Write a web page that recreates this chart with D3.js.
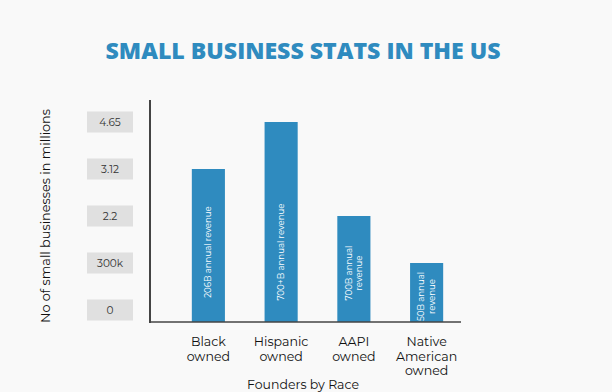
<!DOCTYPE html>
<html>
<head>
<meta charset="utf-8">
<script src="https://cdn.jsdelivr.net/npm/d3@7"></script>
<style>
  html, body { margin: 0; padding: 0; background: #f9f9f9; }
  svg { display: block; }
</style>
</head>
<body>
<svg id="chart" width="612" height="392"></svg>
<script>
const categories = [["Black", "owned"], ["Hispanic", "owned"], ["AAPI", "owned"], ["Native", "American", "owned"]];
const values = [3.12, 4.65, 2.2, 0.3];
const barLabels = [["206B annual revenue"], ["700+B annual revenue"], ["700B annual", "revenue"], ["50B annual", "revenue"]];
const tickValues = [0, 0.3, 2.2, 3.12, 4.65];
const tickLabels = ["0", "300k", "2.2", "3.12", "4.65"];

const svg = d3.select("#chart");
const blue = "#2f8bbf";
const font = "Montserrat, 'Open Sans', 'Noto Sans', sans-serif";

const baseline = 322;
const axisX = 150;

// the source chart spaces its ticks evenly, not linearly
const y = d3.scaleLinear()
  .domain(tickValues)
  .range(tickValues.map((_, i) => 310 - i * 47));

const x = d3.scaleBand()
  .domain(d3.range(categories.length))
  .range([170, 465])
  .paddingInner(0.545)
  .paddingOuter(0.3);

// title
svg.append("text")
  .attr("x", 303)
  .attr("y", 59)
  .attr("text-anchor", "middle")
  .attr("fill", blue)
  .attr("font-family", "'Open Sans', Lato, sans-serif")
  .attr("font-weight", 800)
  .attr("font-size", 22)
  .attr("textLength", 395)
  .attr("lengthAdjust", "spacingAndGlyphs")
  .text("SMALL BUSINESS STATS IN THE US");

// y tick boxes
const ticks = svg.append("g").selectAll("g")
  .data(tickValues)
  .enter()
  .append("g")
  .attr("transform", (d) => `translate(110,${y(d)})`);

ticks.append("rect")
  .attr("x", -23)
  .attr("y", -10.5)
  .attr("width", 46)
  .attr("height", 21)
  .attr("fill", "#e0e0e0");

ticks.append("text")
  .attr("text-anchor", "middle")
  .attr("dy", "0.35em")
  .attr("font-family", font)
  .attr("font-size", 10.5)
  .attr("fill", "#333")
  .text((d, i) => tickLabels[i]);

// y title
svg.append("text")
  .attr("transform", "translate(50,216) rotate(-90)")
  .attr("text-anchor", "middle")
  .attr("font-family", font)
  .attr("font-size", 12.8)
  .attr("fill", "#111")
  .text("No of small businesses in millions");

// bars
svg.append("g")
  .selectAll("rect")
  .data(values)
  .enter()
  .append("rect")
  .attr("x", (d, i) => x(i))
  .attr("y", (d) => y(d))
  .attr("width", x.bandwidth())
  .attr("height", (d) => baseline - y(d))
  .attr("fill", blue);

// bar labels
const labels = svg.append("g")
  .selectAll("text")
  .data(values)
  .enter()
  .append("text")
  .attr("transform", (d, i) => {
    const cy = Math.max((y(d) + baseline) / 2 + 4, 252);
    return `translate(${x(i) + x.bandwidth() / 2},${cy}) rotate(-90)`;
  })
  .attr("text-anchor", "middle")
  .attr("font-family", font)
  .attr("font-size", 8.6)
  .attr("fill", "#fff");

labels.selectAll("tspan")
  .data((d, i) => barLabels[i].map((t, j, arr) => ({ t, j, n: arr.length })))
  .enter()
  .append("tspan")
  .attr("x", 0)
  .attr("y", (d) => (d.j - (d.n - 1) / 2) * 10.5 + 3)
  .text((d) => d.t);

// axis lines
svg.append("line")
  .attr("x1", axisX).attr("x2", axisX)
  .attr("y1", 100).attr("y2", baseline + 1)
  .attr("stroke", "#444").attr("stroke-width", 2);

svg.append("line")
  .attr("x1", axisX).attr("x2", 461)
  .attr("y1", baseline).attr("y2", baseline)
  .attr("stroke", "#444").attr("stroke-width", 1.5);

// category labels
const cats = svg.append("g")
  .selectAll("text")
  .data(categories)
  .enter()
  .append("text")
  .attr("text-anchor", "middle")
  .attr("font-family", font)
  .attr("font-size", 12.6)
  .attr("fill", "#111");

cats.selectAll("tspan")
  .data((d, i) => d.map((t, j) => ({ t, j, i })))
  .enter()
  .append("tspan")
  .attr("x", (d) => x(d.i) + x.bandwidth() / 2)
  .attr("y", (d) => 346 + d.j * 14.5)
  .text((d) => d.t);

// x title, sits at the bottom edge as in the source
svg.append("text")
  .attr("x", 303)
  .attr("y", 389)
  .attr("text-anchor", "middle")
  .attr("font-family", font)
  .attr("font-size", 12.5)
  .attr("fill", "#111")
  .text("Founders by Race");
</script>
</body>
</html>
